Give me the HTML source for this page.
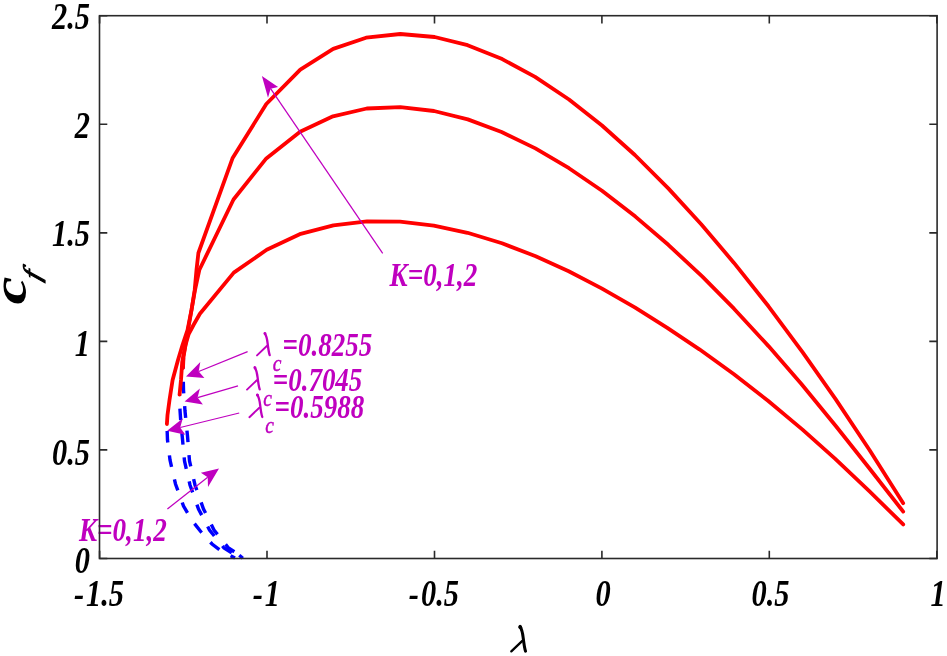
<!DOCTYPE html>
<html><head><meta charset="utf-8"><style>
html,body{margin:0;padding:0;background:#fff;width:947px;height:656px;overflow:hidden}
svg{display:block;will-change:transform}
text{font-family:"Liberation Serif",serif}
</style></head><body>
<svg width="947" height="656" viewBox="0 0 947 656" font-family="Liberation Serif, serif"><polyline points="166.9,424.0 167.5,440.0 170.0,460.0 175.5,484.0 183.5,506.0 192.0,520.5 201.5,532.5 212.0,544.0 222.0,551.5 235.0,558.0" fill="none" stroke="#0000ff" stroke-width="3.4" stroke-dasharray="11.6 12.9" stroke-dashoffset="-7.0"/>
<polyline points="179.6,394.5 180.0,410.0 181.0,425.0 182.2,436.0 184.5,461.0 190.0,485.0 198.5,509.0 209.5,530.0 224.0,548.0 236.5,556.0 240.0,558.0" fill="none" stroke="#0000ff" stroke-width="3.4" stroke-dasharray="11.6 12.9" stroke-dashoffset="-14.1"/>
<polyline points="183.5,357.0 183.0,368.0 183.5,390.0 185.0,411.0 187.5,436.0 189.5,461.0 195.0,485.0 203.5,509.0 214.0,530.0 228.5,548.0 241.0,556.0 244.0,558.0" fill="none" stroke="#0000ff" stroke-width="3.4" stroke-dasharray="11.6 12.9" stroke-dashoffset="-0.3"/>
<line x1="239.3" y1="555.3" x2="242.8" y2="558.3" stroke="#0000ff" stroke-width="3.4"/>
<polyline points="166.9,424.0 167.5,415.0 169.5,400.0 172.6,380.0 178.0,360.0 182.5,345.0 187.5,330.0 191.5,310.0 194.7,290.0 196.5,270.0 198.4,253.0 232.5,158.3 266.3,104.0 300.3,69.6 333.2,48.9 366.1,37.7 400.3,34.0 434.6,37.0 467.6,45.2 502.2,59.1 535.1,76.9 569.0,99.5 602.0,125.5 634.9,155.0 668.3,188.4 701.2,224.3 734.0,262.9 768.5,306.3 802.7,352.3 835.6,399.1 869.5,450.0 903.2,503.2" fill="none" stroke="#ff0000" stroke-width="3.8" stroke-linejoin="round" stroke-linecap="round"/>
<polyline points="179.6,394.5 181.0,380.0 182.2,362.0 183.5,355.0 185.5,345.0 188.0,330.0 191.5,310.0 195.0,290.0 199.3,270.0 233.5,199.5 266.3,158.4 300.1,131.8 333.0,116.3 366.8,108.5 400.3,107.1 434.0,111.0 467.8,119.4 501.6,132.0 535.4,148.4 569.0,168.2 602.0,190.8 635.4,216.6 668.3,244.8 702.4,276.7 734.0,308.7 768.5,346.1 801.2,383.8 835.6,425.7 869.5,468.5 903.2,511.6" fill="none" stroke="#ff0000" stroke-width="3.8" stroke-linejoin="round" stroke-linecap="round"/>
<polyline points="183.0,368.0 183.5,357.0 185.5,345.0 188.7,334.0 193.5,325.0 199.9,313.8 233.8,272.6 266.7,249.8 299.7,234.2 333.4,225.3 367.0,221.4 400.0,221.7 433.8,225.6 467.5,232.8 502.0,243.3 535.7,256.2 568.7,271.3 601.6,288.4 635.2,307.7 667.3,327.8 699.4,349.3 734.0,374.3 768.0,400.8 802.8,429.9 835.0,458.7 869.3,491.2 903.2,524.4" fill="none" stroke="#ff0000" stroke-width="3.8" stroke-linejoin="round" stroke-linecap="round"/>
<line x1="382.7" y1="253.3" x2="270.6" y2="88.7" stroke="#bf00bf" stroke-width="1.25"/><polygon points="261.9,76.0 278.1,87.0 270.6,88.7 268.0,97.7" fill="#bf00bf"/>
<line x1="247.6" y1="351.7" x2="198.7" y2="371.5" stroke="#bf00bf" stroke-width="1.25"/><polygon points="186.0,376.6 200.3,362.1 198.7,371.5 204.4,377.9" fill="#bf00bf"/>
<line x1="238.0" y1="385.9" x2="197.6" y2="397.6" stroke="#bf00bf" stroke-width="1.25"/><polygon points="184.6,401.4 199.9,388.5 197.6,397.6 202.9,404.6" fill="#bf00bf"/>
<line x1="239.2" y1="413.0" x2="180.2" y2="427.5" stroke="#bf00bf" stroke-width="1.25"/><polygon points="167.1,430.7 182.7,418.4 180.2,427.5 185.3,434.7" fill="#bf00bf"/>
<line x1="167.4" y1="509.0" x2="207.7" y2="477.3" stroke="#bf00bf" stroke-width="1.25"/><polygon points="219.0,468.4 208.0,486.9 207.7,477.3 200.9,472.8" fill="#bf00bf"/>
<text transform="translate(99.0,605.5) scale(0.800,1)" font-size="38.0" text-anchor="middle" fill="#000" font-weight="bold" font-style="italic"><tspan>-</tspan><tspan dx="2.5">1.5</tspan></text>
<text transform="translate(266.4,605.5) scale(0.800,1)" font-size="38.0" text-anchor="middle" fill="#000" font-weight="bold" font-style="italic"><tspan>-</tspan><tspan dx="2.5">1</tspan></text>
<text transform="translate(433.9,605.5) scale(0.800,1)" font-size="38.0" text-anchor="middle" fill="#000" font-weight="bold" font-style="italic"><tspan>-</tspan><tspan dx="2.5">0.5</tspan></text>
<text transform="translate(603.1,605.5) scale(0.800,1)" font-size="38.0" text-anchor="middle" fill="#000" font-weight="bold" font-style="italic">0</text>
<text transform="translate(770.5,605.5) scale(0.800,1)" font-size="38.0" text-anchor="middle" fill="#000" font-weight="bold" font-style="italic">0.5</text>
<text transform="translate(938.0,605.5) scale(0.800,1)" font-size="38.0" text-anchor="middle" fill="#000" font-weight="bold" font-style="italic">1</text>
<text transform="translate(90.0,572.8) scale(0.800,1)" font-size="38.0" text-anchor="end" fill="#000" font-weight="bold" font-style="italic">0</text>
<text transform="translate(90.0,464.6) scale(0.800,1)" font-size="38.0" text-anchor="end" fill="#000" font-weight="bold" font-style="italic">0.5</text>
<text transform="translate(90.0,356.3) scale(0.800,1)" font-size="38.0" text-anchor="end" fill="#000" font-weight="bold" font-style="italic">1</text>
<text transform="translate(90.0,245.6) scale(0.800,1)" font-size="38.0" text-anchor="end" fill="#000" font-weight="bold" font-style="italic">1.5</text>
<text transform="translate(90.0,137.9) scale(0.800,1)" font-size="38.0" text-anchor="end" fill="#000" font-weight="bold" font-style="italic">2</text>
<text transform="translate(90.0,29.4) scale(0.800,1)" font-size="38.0" text-anchor="end" fill="#000" font-weight="bold" font-style="italic">2.5</text>
<text transform="translate(389.6,285.6) scale(0.810,1)" font-size="33.5" text-anchor="start" fill="#bf00bf" font-weight="bold" font-style="italic">K=0,1,2</text>
<text transform="translate(79.0,540.9) scale(0.810,1)" font-size="33.5" text-anchor="start" fill="#bf00bf" font-weight="bold" font-style="italic">K=0,1,2</text>
<path d="M264.72,333.10 C266.59,336.00 267.15,339.34 267.59,343.13 S268.60,352.05 269.71,355.18" fill="none" stroke="#bf00bf" stroke-width="2.30" stroke-linecap="round"/><path d="M257.00,355.40 L266.81,346.03" fill="none" stroke="#bf00bf" stroke-width="1.90" stroke-linecap="round"/><circle cx="265.03" cy="333.77" r="1.43" fill="#bf00bf"/>
<path d="M254.72,367.30 C256.59,370.20 257.15,373.54 257.59,377.34 S258.60,386.25 259.71,389.38" fill="none" stroke="#bf00bf" stroke-width="2.30" stroke-linecap="round"/><path d="M247.00,389.60 L256.81,380.23" fill="none" stroke="#bf00bf" stroke-width="1.90" stroke-linecap="round"/><circle cx="255.03" cy="367.97" r="1.43" fill="#bf00bf"/>
<path d="M257.22,394.60 C259.12,397.54 259.68,400.93 260.13,404.77 S261.15,413.81 262.28,416.97" fill="none" stroke="#bf00bf" stroke-width="2.30" stroke-linecap="round"/><path d="M249.40,417.20 L259.34,407.71" fill="none" stroke="#bf00bf" stroke-width="1.90" stroke-linecap="round"/><circle cx="257.54" cy="395.28" r="1.43" fill="#bf00bf"/>
<text transform="translate(272.8,370.9) scale(0.850,1)" font-size="23.0" text-anchor="start" fill="#bf00bf" font-weight="normal" font-style="italic" stroke="#bf00bf" stroke-width="0.45">c</text>
<text transform="translate(263.3,405.9) scale(0.850,1)" font-size="23.0" text-anchor="start" fill="#bf00bf" font-weight="normal" font-style="italic" stroke="#bf00bf" stroke-width="0.45">c</text>
<text transform="translate(265.2,433.4) scale(0.850,1)" font-size="23.0" text-anchor="start" fill="#bf00bf" font-weight="normal" font-style="italic" stroke="#bf00bf" stroke-width="0.45">c</text>
<text transform="translate(282.6,356.1) scale(0.810,1)" font-size="33.3" text-anchor="start" fill="#bf00bf" font-weight="bold" font-style="italic">=0.8255</text>
<text transform="translate(272.8,390.9) scale(0.810,1)" font-size="33.3" text-anchor="start" fill="#bf00bf" font-weight="bold" font-style="italic">=0.7045</text>
<text transform="translate(274.6,418.3) scale(0.810,1)" font-size="33.3" text-anchor="start" fill="#bf00bf" font-weight="bold" font-style="italic">=0.5988</text>
<path d="M519.95,626.40 C522.05,629.65 522.67,633.40 523.17,637.65 S524.30,647.65 525.55,651.15" fill="none" stroke="#000" stroke-width="3.00" stroke-linecap="round"/><path d="M511.30,651.40 L522.30,640.90" fill="none" stroke="#000" stroke-width="2.30" stroke-linecap="round"/><circle cx="520.30" cy="627.15" r="1.86" fill="#000"/>
<text transform="translate(25.9,304.5) scale(0.76,1) rotate(-90)" font-size="63" font-weight="bold" font-style="italic">c</text>
<text transform="translate(40,281.5) scale(0.8,1) rotate(-90) skewX(-15)" font-size="30" font-style="italic" stroke="#000" stroke-width="1.1">f</text>
<rect x="99.5" y="15.7" width="837.6" height="542.8" fill="none" stroke="#2a2a2a" stroke-width="1.6"/>
<path d="M99.6,558.5v-7.8M99.6,15.7v7.8M267.0,558.5v-7.8M267.0,15.7v7.8M434.5,558.5v-7.8M434.5,15.7v7.8M601.9,558.5v-7.8M601.9,15.7v7.8M769.3,558.5v-7.8M769.3,15.7v7.8M936.8,558.5v-7.8M936.8,15.7v7.8M99.5,558.5h7.8M937.1,558.5h-7.8M99.5,449.9h7.8M937.1,449.9h-7.8M99.5,341.4h7.8M937.1,341.4h-7.8M99.5,232.9h7.8M937.1,232.9h-7.8M99.5,124.3h7.8M937.1,124.3h-7.8M99.5,15.8h7.8M937.1,15.8h-7.8" stroke="#2a2a2a" stroke-width="1.6" fill="none"/></svg>
</body></html>
